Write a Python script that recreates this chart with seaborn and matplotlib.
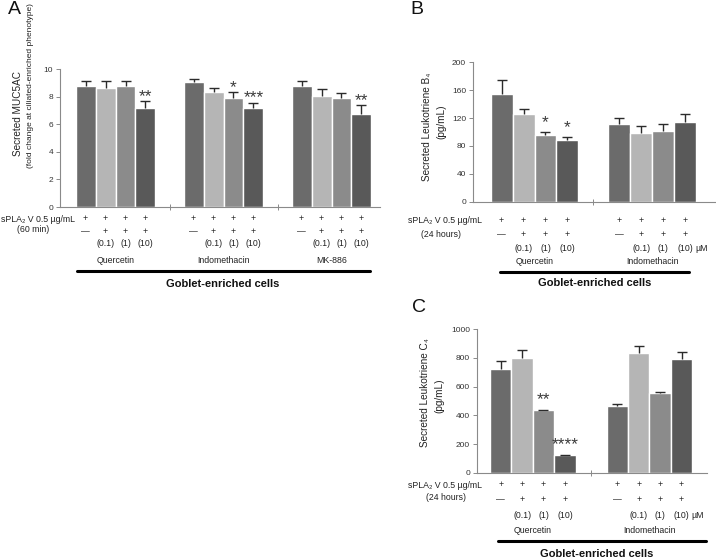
import numpy as np
import pandas as pd
import matplotlib
matplotlib.use("Agg")
import matplotlib.pyplot as plt
import matplotlib.transforms as mtransforms
from matplotlib.lines import Line2D
import seaborn as sns

W, H = 716, 559

# four bars per drug: sPLA2 alone, then drug at 0.1, 1, 10 uM
conds = ["sPLA2", "0.1", "1", "10"]
bar_colors = ["#6b6b6b", "#b5b5b5", "#8b8b8b", "#595959"]
row1 = ["+", "+", "+", "+"]
row2 = ["—", "+", "+", "+"]
row3 = ["", "(0.1)", "(1)", "(10)"]

# Panel A - MUC5AC
a_drugs = ["Quercetin", "Indomethacin", "MK-886"]
a_vals = [[8.80, 8.62, 8.80, 7.18], [9.03, 8.35, 7.91, 7.14], [8.79, 8.05, 7.90, 6.72]]
a_errs = [[0.33, 0.50, 0.30, 0.50], [0.24, 0.24, 0.39, 0.43], [0.34, 0.50, 0.38, 0.66]]
a_stars = [["", "", "", "**"], ["", "", "*", "***"], ["", "", "", "**"]]

# Panel B - LTB4
b_drugs = ["Quercetin", "Indomethacin"]
b_vals = [[154, 126, 96, 89], [112, 99, 101, 114]]
b_errs = [[21, 7, 4.5, 4.5], [8.5, 9.6, 10.5, 12.5]]
b_stars = [["", "", "*", "*"], ["", "", "", ""]]

# Panel C - LTC4
c_drugs = ["Quercetin", "Indomethacin"]
c_vals = [[722, 800, 435, 120], [468, 835, 553, 790]]
c_errs = [[60, 57, 5, 5], [14, 47, 11, 53]]
c_stars = [["", "", "**", "****"], ["", "", "", ""]]

sns.set_theme(style="white")
plt.rcParams["font.family"] = ["Liberation Sans", "DejaVu Sans"]

fig = plt.figure(figsize=(W / 100, H / 100), dpi=100)
TXT = 6.3
INK = "#222222"


def fy(ypx):
    return 1 - ypx / H


def to_df(drugs, vals, errs):
    rows = []
    for d, vs, es in zip(drugs, vals, errs):
        for c, v, e in zip(conds, vs, es):
            rows.append({"drug": d, "cond": c, "value": v, "err": e})
    return pd.DataFrame(rows)


def panel(box, xlim, ylim, yticks, drugs, vals, errs, stars, width, rows_y, unit, star_off):
    l, t, r, b = box
    ax = fig.add_axes([l / W, fy(b), (r - l) / W, (b - t) / H])
    df = to_df(drugs, vals, errs)
    sns.barplot(data=df, x="drug", y="value", hue="cond", hue_order=conds,
                palette=bar_colors, width=width, gap=0, saturation=1,
                errorbar=None, legend=False, ax=ax)
    ax.set_xlim(*xlim)
    ax.set_ylim(*ylim)
    ax.set_yticks(yticks)
    ax.set_xticks([i + 0.5 for i in range(len(drugs) - 1)])
    ax.set_xticklabels([])
    ax.set_xlabel("")
    ax.set_ylabel("")
    for s in ["top", "right"]:
        ax.spines[s].set_visible(False)
    for s in ["left", "bottom"]:
        ax.spines[s].set_color("#8a8a8a")
        ax.spines[s].set_linewidth(0.8)
    ax.tick_params(axis="y", direction="out", length=3, width=0.7, color="#8a8a8a",
                   labelsize=6, labelcolor="#333333", pad=2, left=True)
    ax.tick_params(axis="x", direction="inout", length=5, width=0.7, color="#8a8a8a", bottom=True)

    # bar centres from seaborn's patches: one container per hue level
    centers = np.zeros((len(drugs), len(conds)))
    for i, cont in enumerate(ax.containers):
        for j, p in enumerate(cont):
            centers[j, i] = p.get_x() + p.get_width() / 2
    v = np.array(vals, dtype=float)
    e = np.array(errs, dtype=float)
    ax.errorbar(centers.ravel(), v.ravel(), yerr=[np.zeros(v.size), e.ravel()],
                fmt="none", ecolor="#2b2b2b", elinewidth=1.0, capsize=0, zorder=3)
    ax.plot(centers.ravel(), (v + e).ravel(), ls="none", marker="_", ms=6.5,
            mew=1.0, color="#2b2b2b", zorder=3)
    for j in range(len(drugs)):
        for i in range(len(conds)):
            if stars[j][i]:
                ax.annotate(stars[j][i], (centers[j, i], v[j, i] + e[j, i]),
                            xytext=(0, star_off), textcoords="offset points",
                            ha="center", va="bottom", fontsize=12.5, color="#3a3a3a")

    tr = mtransforms.blended_transform_factory(ax.transData, fig.transFigure)
    y1, y2, y3, yn = rows_y
    for j, d in enumerate(drugs):
        for i in range(len(conds)):
            x = centers[j, i]
            ax.text(x, fy(y1), row1[i], transform=tr, ha="center", va="center", fontsize=TXT, color=INK)
            ax.text(x, fy(y2), row2[i], transform=tr, ha="center", va="center", fontsize=TXT, color=INK)
            if row3[i]:
                ax.text(x, fy(y3), row3[i], transform=tr, ha="center", va="center", fontsize=TXT, color=INK)
        if unit and j == len(drugs) - 1:
            ax.annotate("µM", (centers[j, 3], fy(y3)), xycoords=tr, xytext=(7, 0),
                        textcoords="offset points", ha="left", va="center", fontsize=TXT, color=INK)
        ax.text(j, fy(yn), d, transform=tr, ha="center", va="center", fontsize=TXT, color=INK)
    return ax


def side_labels(x_right, lab_x, y1, y2, txt2):
    fig.text(x_right / W, fy(y1), "sPLA₂ V 0.5 µg/mL", ha="right", va="center", fontsize=TXT, color=INK)
    fig.text(lab_x / W, fy(y2), txt2, ha="center", va="center", fontsize=TXT, color=INK)


def bottom_block(x0, x1, yline, xg, yg):
    fig.add_artist(Line2D([x0 / W, x1 / W], [fy(yline), fy(yline)], color="black", lw=2.2))
    fig.text(xg / W, fy(yg), "Goblet-enriched cells", ha="center", va="center",
             fontsize=8, fontweight="bold", color="#111111")


def ylab(x, y, s, size):
    fig.text(x / W, fy(y), s, rotation=90, ha="center", va="center", fontsize=size, color=INK)


# Panel A
panel((60, 69, 380, 207), (-0.514, 2.449), (0, 10), [0, 2, 4, 6, 8, 10],
      a_drugs, a_vals, a_errs, a_stars, 0.74, (219, 231.5, 244, 260.5), False, -2)
side_labels(75, 33, 219, 230, "(60 min)")
bottom_block(76.7, 370, 271, 223, 284)
ylab(18, 114, "Secreted MUC5AC", 7.2)
ylab(31, 86, "(fold change at ciliated-enriched phenotype)", 6.0)
fig.text(14 / W, fy(10), "A", ha="center", va="center", fontsize=14, color="#111111")

# Panel B
panel((473, 62.3, 715, 201.7), (-0.522, 1.532), (0, 200), [0, 40, 80, 120, 160, 200],
      b_drugs, b_vals, b_errs, b_stars, 0.745, (220.7, 235, 248.5, 261), True, 1)
side_labels(482, 441, 220.7, 234, "(24 hours)")
bottom_block(500, 689, 272, 595, 283)
ylab(427, 127, "Secreted Leukotriene B₄", 7.2)
ylab(441, 122, "(pg/mL)", 7.2)
fig.text(417 / W, fy(9), "B", ha="center", va="center", fontsize=14, color="#111111")

# Panel C
panel((477, 329.3, 707, 472.7), (-0.478, 1.493), (0, 1000), [0, 200, 400, 600, 800, 1000],
      c_drugs, c_vals, c_errs, c_stars, 0.734, (485, 499.5, 516, 530.7), True, 2)
side_labels(482, 445.5, 485, 497, "(24 hours)")
bottom_block(498, 706, 541, 597, 554)
ylab(425, 393, "Secreted Leukotriene C₄", 7.2)
ylab(439, 396, "(pg/mL)", 7.2)
fig.text(419 / W, fy(308), "C", ha="center", va="center", fontsize=14, color="#111111")

fig.savefig("out.png", dpi=100)
